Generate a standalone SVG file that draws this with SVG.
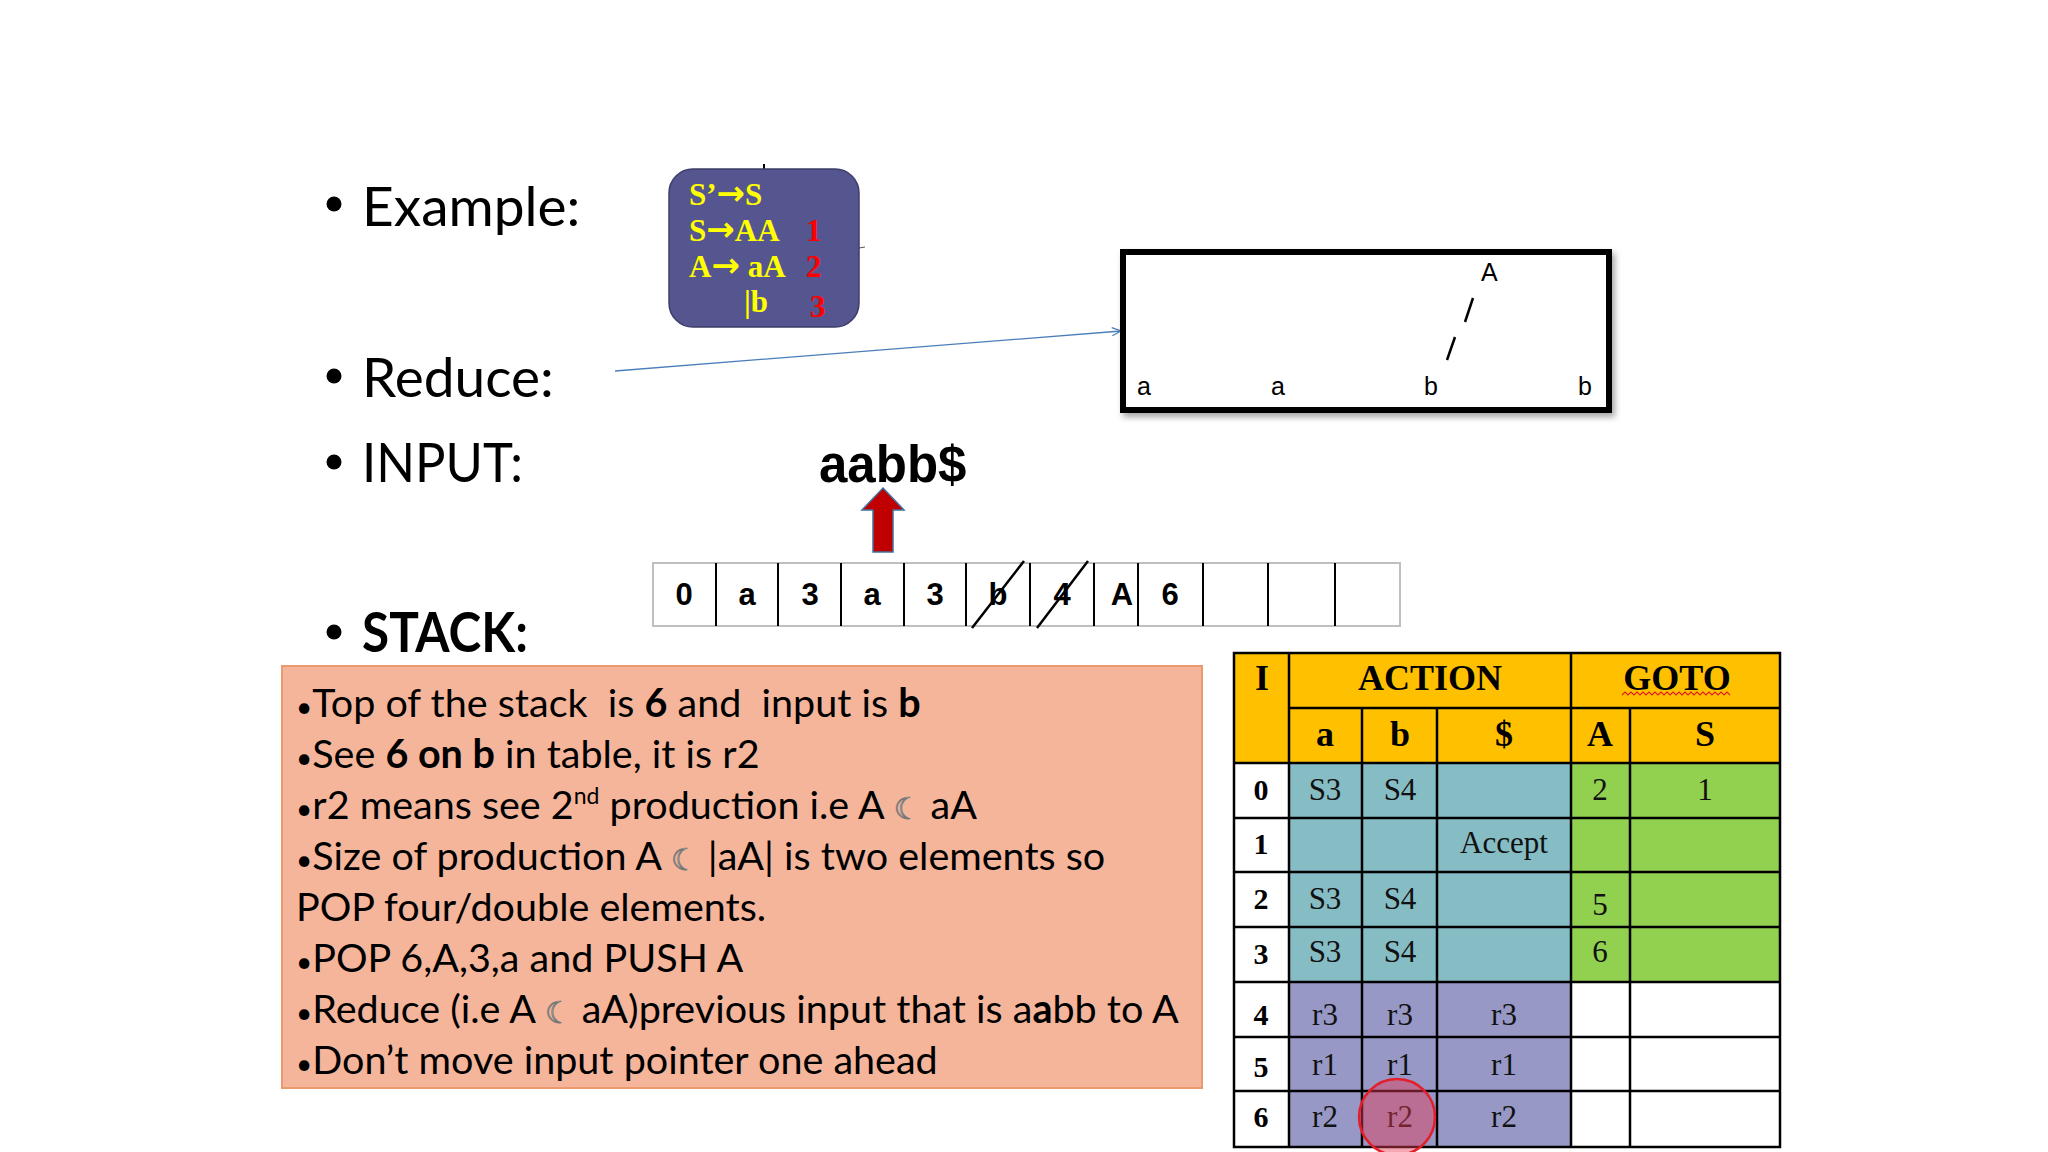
<svg xmlns="http://www.w3.org/2000/svg" width="2048" height="1152" viewBox="0 0 2048 1152">
<style>
.head{font-family:Lato,"Liberation Sans",sans-serif;font-size:55px;fill:#000}
.gram{font-family:"Liberation Serif",serif;font-weight:bold;font-size:31px;fill:#ffff00}
.arr{font-family:"DejaVu Sans",sans-serif;font-weight:bold;font-size:34px}
.num{font-family:"Liberation Serif",serif;font-weight:bold;font-size:31px;fill:#ff0000}
.tree{font-family:"Liberation Sans",Arial,sans-serif;font-size:25px;fill:#000}
.stk{font-family:"Liberation Sans",Arial,sans-serif;font-weight:bold;font-size:31px;fill:#000;text-anchor:middle}
.body{font-family:Lato,"Liberation Sans",sans-serif;font-size:39.5px;fill:#000;white-space:pre}
.bul{font-size:28px}
.moon{font-family:"DejaVu Sans",sans-serif;font-size:30px;fill:#fbe3d8;stroke:#777;stroke-width:0.9}
.th{font-family:"Liberation Serif",serif;font-weight:bold;font-size:36px;fill:#000;text-anchor:middle}
.td{font-family:"Liberation Serif",serif;font-size:31px;fill:#111;text-anchor:middle}
.tn{font-family:"Liberation Serif",serif;font-weight:bold;font-size:30px;fill:#000;text-anchor:middle}
.grid{stroke:#000;stroke-width:2.5;fill:none}
</style>
<defs>
<marker id="openArrow" markerWidth="12" markerHeight="10" refX="10" refY="5" orient="auto" markerUnits="userSpaceOnUse">
<path d="M1,1 L10,5 L1,9" fill="none" stroke="#4a7ebb" stroke-width="1.3"/>
</marker>
<filter id="shadow" x="-5%" y="-10%" width="115%" height="130%">
<feDropShadow dx="3" dy="4" stdDeviation="3" flood-color="#000" flood-opacity="0.35"/>
</filter>
</defs>
<rect width="2048" height="1152" fill="#fff"/>

<g id="bullets">
<circle cx="334" cy="204" r="7.5" fill="#000"/><text class="head" x="362" y="226">Example:</text>
<circle cx="334" cy="376" r="7.5" fill="#000"/><text class="head" x="362" y="397">Reduce:</text>
<circle cx="334" cy="462" r="7.5" fill="#000"/><text class="head" x="362" y="482" textLength="161" lengthAdjust="spacingAndGlyphs">INPUT:</text>
<circle cx="334" cy="632" r="7.5" fill="#000"/><text class="head" x="362" y="652" font-weight="bold" textLength="166" lengthAdjust="spacingAndGlyphs">STACK:</text>
</g>

<g id="grammar">
<line x1="764" y1="164" x2="764" y2="170" stroke="#000" stroke-width="2"/>
<line x1="859" y1="248" x2="865" y2="247" stroke="#555" stroke-width="1"/>
<rect x="669" y="169" width="190" height="158" rx="24" fill="#55558f" stroke="#3e3e6a" stroke-width="1.5"/>
<text class="gram" x="689" y="205">S’<tspan class="arr">→</tspan>S</text>
<text class="gram" x="689" y="241">S<tspan class="arr">→</tspan>AA</text>
<text class="num" x="806" y="241" font-size="25">1</text>
<text class="gram" x="689" y="277">A<tspan class="arr">→</tspan> aA</text>
<text class="num" x="806" y="277" font-size="27">2</text>
<text class="gram" x="744" y="312">|b</text>
<text class="num" x="810" y="317">3</text>
</g>

<g id="connectors">
<line x1="615" y1="371" x2="1121" y2="331" stroke="#4a7ebb" stroke-width="1.3" marker-end="url(#openArrow)"/>
</g>

<g id="reduce-tree">
<rect x="1123" y="252" width="486" height="158" fill="#fff" stroke="#000" stroke-width="6" filter="url(#shadow)"/>
<text class="tree" x="1481" y="281">A</text>
<line x1="1473" y1="298" x2="1465" y2="322" stroke="#000" stroke-width="2.5"/>
<line x1="1455" y1="337" x2="1447" y2="360" stroke="#000" stroke-width="2.5"/>
<text class="tree" x="1137" y="395">a</text>
<text class="tree" x="1271" y="395">a</text>
<text class="tree" x="1424" y="395">b</text>
<text class="tree" x="1578" y="395">b</text>
</g>

<g id="input">
<text x="819" y="482" font-family="'Liberation Sans',Arial,sans-serif" font-weight="bold" font-size="51">aabb$</text>
<polygon points="883,488 904,510 893,510 893,552 873,552 873,510 862,510" fill="#c00000" stroke="#41719c" stroke-width="1.5"/>
</g>

<g id="stack">
<rect x="653" y="563" width="747" height="63" fill="#fff" stroke="#bfbfbf" stroke-width="2"/>
<g stroke="#000" stroke-width="2">
<line x1="716" y1="563" x2="716" y2="626"/><line x1="778" y1="563" x2="778" y2="626"/>
<line x1="841" y1="563" x2="841" y2="626"/><line x1="904" y1="563" x2="904" y2="626"/>
<line x1="966" y1="563" x2="966" y2="626"/><line x1="1030" y1="563" x2="1030" y2="626"/>
<line x1="1094" y1="563" x2="1094" y2="626"/><line x1="1138" y1="563" x2="1138" y2="626"/>
<line x1="1203" y1="563" x2="1203" y2="626"/><line x1="1268" y1="563" x2="1268" y2="626"/>
<line x1="1335" y1="563" x2="1335" y2="626"/>
</g>
<text class="stk" x="684" y="605">0</text>
<text class="stk" x="747" y="605">a</text>
<text class="stk" x="810" y="605">3</text>
<text class="stk" x="872" y="605">a</text>
<text class="stk" x="935" y="605">3</text>
<text class="stk" x="998" y="605">b</text>
<text class="stk" x="1062" y="605">4</text>
<text class="stk" x="1122" y="605">A</text>
<text class="stk" x="1170" y="605">6</text>
<line x1="972" y1="628" x2="1024" y2="561" stroke="#000" stroke-width="2.5"/>
<line x1="1037" y1="628" x2="1088" y2="561" stroke="#000" stroke-width="2.5"/>
</g>

<g id="explanation">
<rect x="282" y="666" width="920" height="422" fill="#f5b59b" stroke="#eb9a70" stroke-width="2"/>
<text class="body" x="296" y="717" xml:space="preserve"><tspan class="bul">•</tspan>Top of the stack  is <tspan font-weight="bold">6</tspan> and  input is <tspan font-weight="bold">b</tspan></text>
<text class="body" x="296" y="768"><tspan class="bul">•</tspan>See <tspan font-weight="bold">6 on b</tspan> in table, it is r2</text>
<text class="body" x="296" y="819" xml:space="preserve"><tspan class="bul">•</tspan>r2 means see 2<tspan font-size="23" dy="-15">nd</tspan><tspan dy="15"> production i.e A </tspan><tspan class="moon">☾</tspan> aA</text>
<text class="body" x="296" y="870" xml:space="preserve"><tspan class="bul">•</tspan>Size of production A <tspan class="moon">☾</tspan> |aA| is two elements so</text>
<text class="body" x="296" y="921">POP four/double elements.</text>
<text class="body" x="296" y="972"><tspan class="bul">•</tspan>POP 6,A,3,a and PUSH A</text>
<text class="body" x="296" y="1023" xml:space="preserve"><tspan class="bul">•</tspan>Reduce (i.e A <tspan class="moon">☾</tspan> aA)previous input that is a<tspan font-weight="bold">a</tspan>bb to A</text>
<text class="body" x="296" y="1074"><tspan class="bul">•</tspan>Don’t move input pointer one ahead</text>
</g>

<g id="parse-table">
<rect x="1234" y="653" width="546" height="110" fill="#ffc000"/>
<rect x="1234" y="763" width="55" height="219" fill="#fff"/>
<rect x="1289" y="763" width="282" height="219" fill="#86bcc4"/>
<rect x="1571" y="763" width="209" height="219" fill="#92d050"/>
<rect x="1234" y="982" width="55" height="165" fill="#fff"/>
<rect x="1289" y="982" width="282" height="165" fill="#9898c6"/>
<rect x="1571" y="982" width="209" height="165" fill="#fff"/>
<g class="grid">
<rect x="1234" y="653" width="546" height="494"/>
<line x1="1289" y1="708" x2="1780" y2="708"/>
<line x1="1234" y1="763" x2="1780" y2="763"/>
<line x1="1234" y1="818" x2="1780" y2="818"/>
<line x1="1234" y1="872" x2="1780" y2="872"/>
<line x1="1234" y1="927" x2="1780" y2="927"/>
<line x1="1234" y1="982" x2="1780" y2="982"/>
<line x1="1234" y1="1037" x2="1780" y2="1037"/>
<line x1="1234" y1="1091" x2="1780" y2="1091"/>
<line x1="1289" y1="653" x2="1289" y2="1147"/>
<line x1="1362" y1="708" x2="1362" y2="1147"/>
<line x1="1437" y1="708" x2="1437" y2="1147"/>
<line x1="1571" y1="653" x2="1571" y2="1147"/>
<line x1="1630" y1="708" x2="1630" y2="1147"/>
</g>
<text class="th" x="1262" y="690">I</text>
<text class="th" x="1430" y="690">ACTION</text>
<text class="th" x="1677" y="690">GOTO</text>
<path d="M1622,695 l3,-3 l3,3 l3,-3 l3,3 l3,-3 l3,3 l3,-3 l3,3 l3,-3 l3,3 l3,-3 l3,3 l3,-3 l3,3 l3,-3 l3,3 l3,-3 l3,3 l3,-3 l3,3 l3,-3 l3,3 l3,-3 l3,3 l3,-3 l3,3 l3,-3 l3,3 l3,-3 l3,3 l3,-3 l3,3 l3,-3 l3,3 l3,-3 l3,3" fill="none" stroke="#e02020" stroke-width="1.2"/>
<text class="th" x="1325" y="746">a</text>
<text class="th" x="1400" y="746">b</text>
<text class="th" x="1504" y="746">$</text>
<text class="th" x="1600" y="746">A</text>
<text class="th" x="1705" y="746">S</text>
<text class="tn" x="1261" y="800">0</text>
<text class="tn" x="1261" y="854">1</text>
<text class="tn" x="1261" y="909">2</text>
<text class="tn" x="1261" y="964">3</text>
<text class="tn" x="1261" y="1025">4</text>
<text class="tn" x="1261" y="1077">5</text>
<text class="tn" x="1261" y="1127">6</text>
<text class="td" x="1325" y="800">S3</text><text class="td" x="1400" y="800">S4</text>
<text class="td" x="1600" y="800" font-size="26">2</text><text class="td" x="1705" y="800" font-size="26">1</text>
<text class="td" x="1504" y="853">Accept</text>
<text class="td" x="1325" y="909">S3</text><text class="td" x="1400" y="909">S4</text>
<text class="td" x="1600" y="915">5</text>
<text class="td" x="1325" y="962">S3</text><text class="td" x="1400" y="962">S4</text>
<text class="td" x="1600" y="962">6</text>
<text class="td" x="1325" y="1025">r3</text><text class="td" x="1400" y="1025">r3</text><text class="td" x="1504" y="1025">r3</text>
<text class="td" x="1325" y="1075">r1</text><text class="td" x="1400" y="1075">r1</text><text class="td" x="1504" y="1075">r1</text>
<text class="td" x="1325" y="1127">r2</text><text class="td" x="1400" y="1127">r2</text><text class="td" x="1504" y="1127">r2</text>
<circle cx="1397" cy="1117" r="38" fill="#e63c55" fill-opacity="0.45" stroke="#e41e2a" stroke-width="2.5"/>
</g>
</svg>
